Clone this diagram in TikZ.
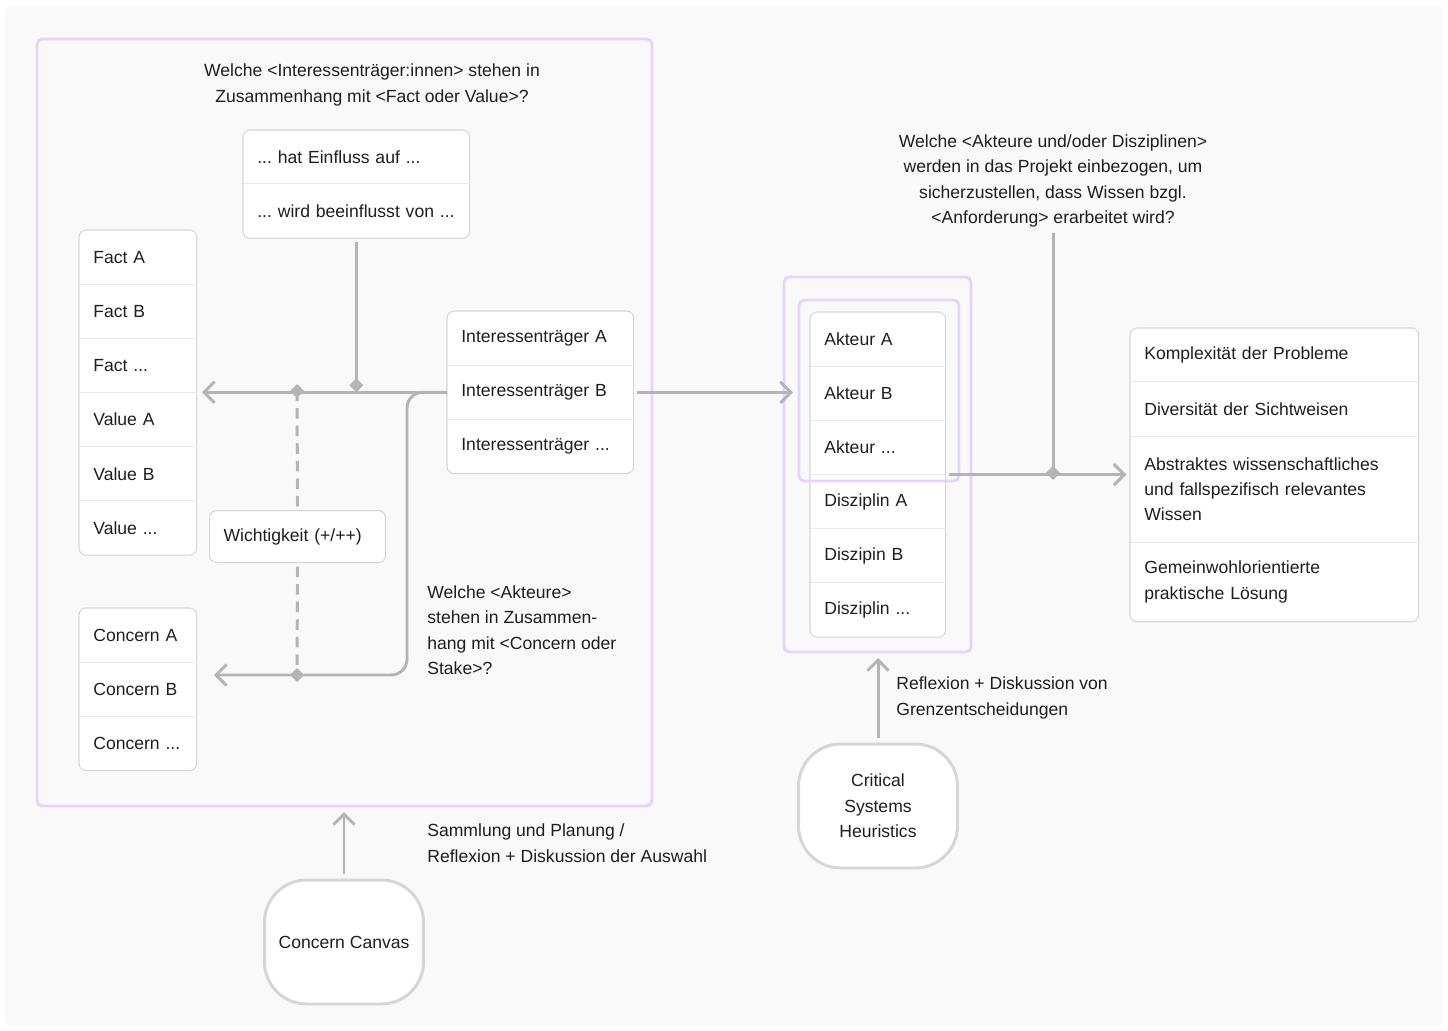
\documentclass[tikz,border=0pt]{standalone}
\usepackage{fontspec}
\setmainfont{Liberation Sans}
\usetikzlibrary{arrows.meta}
\usetikzlibrary{positioning}
\frenchspacing
\definecolor{canvas}{HTML}{F9F9F9}
\definecolor{wire}{HTML}{B4B4B4}
\definecolor{rim}{HTML}{D6D6D6}
\definecolor{hairline}{HTML}{E8E8E8}
\definecolor{lilac}{HTML}{E3D3FF}
\definecolor{ink}{HTML}{1E1E1E}
\tikzset{frame/.style = {draw=lilac, line width=1.6pt, rounded corners=3pt}}
\tikzset{listbox/.style = {draw=rim, line width=0.6pt, rounded corners=4pt}}
\tikzset{listrow/.style = {text width=#1, inner xsep=0.28cm, inner ysep=0pt,
                           minimum height=1.07cm, align=left, fill=white, text=ink}}
\tikzset{hairrule/.style = {draw=hairline, line width=0.6pt}}
\tikzset{wire/.style = {draw=wire, line width=1.7pt}}
\tikzset{hub/.style = {-{Diamond[length=8pt, width=8pt]}}}
\tikzset{tool/.style = {draw=rim, fill=white, line width=1.7pt, rounded corners=24pt,
                        minimum width=3.18cm, minimum height=2.48cm, align=center, text=ink}}
\tikzset{note/.style = {inner sep=0pt, text=ink}}

\begin{document}
\begin{tikzpicture}[x=0.02cm, y=-0.02cm, font=\fontsize{10}{14.5}\selectfont,
                    >={Straight Barb[length=6pt, width=12pt]}]
    \useasboundingbox (0,0) rectangle (1448,1031);
    \fill [canvas, rounded corners=3pt] (5,5) rectangle (1443,1026);

    \node [note, align=center] (askFact) at (372,85)
        {Welche <Interessenträger:innen> stehen in\\Zusammenhang mit <Fact oder Value>?};

    \node [listrow=3.96cm, minimum height=1.06cm, anchor=north west] (einfl) at (243,130) {... hat Einfluss auf ...};
    \node [listrow=3.96cm, minimum height=1.08cm, below=0pt of einfl] (beeinfl) {... wird beeinflusst von ...};
    \draw [listbox] (einfl.north west) rectangle (beeinfl.south east);

    \node [listrow=1.78cm, minimum height=1.07cm, anchor=north west] (factA) at (79,230) {Fact A};
    \node [listrow=1.78cm, below=0pt of factA] (factB) {Fact B};
    \node [listrow=1.78cm, below=0pt of factB] (factC) {Fact ...};
    \node [listrow=1.78cm, below=0pt of factC] (valA) {Value A};
    \node [listrow=1.78cm, below=0pt of valA] (valB) {Value B};
    \node [listrow=1.78cm, below=0pt of valB] (valC) {Value ...};
    \draw [listbox] (factA.north west) rectangle (valC.south east);

    \node [listrow=1.78cm, anchor=north west] (conA) at (79,608) {Concern A};
    \node [listrow=1.78cm, below=0pt of conA] (conB) {Concern B};
    \node [listrow=1.78cm, below=0pt of conB] (conC) {Concern ...};
    \draw [listbox] (conA.north west) rectangle (conC.south east);

    \node [listrow=3.16cm, anchor=north west] (intA) at (447,311) {Interessenträger A};
    \node [listrow=3.16cm, below=0pt of intA] (intB) {Interessenträger B};
    \node [listrow=3.16cm, below=0pt of intB] (intC) {Interessenträger ...};
    \draw [listbox] (intA.north west) rectangle (intC.south east);

    \node [listrow=2.96cm, minimum height=1.04cm, anchor=north west, draw=rim,
           line width=0.6pt, rounded corners=4pt] (wicht) at (209,510) {Wichtigkeit (+/++)};

    \node [note, anchor=west, align=left] (askStake) at (427,630)
        {Welche <Akteure>\\stehen in Zusammen-\\hang mit <Concern oder\\Stake>?};

    \node [listrow=2.14cm, anchor=north west] (akt1) at (810,312) {Akteur A};
    \node [listrow=2.14cm, below=0pt of akt1] (akt2) {Akteur B};
    \node [listrow=2.14cm, below=0pt of akt2] (akt3) {Akteur ...};
    \node [listrow=2.14cm, below=0pt of akt3] (dis1) {Disziplin A};
    \node [listrow=2.14cm, below=0pt of dis1] (dis2) {Diszipin B};
    \node [listrow=2.14cm, below=0pt of dis2] (dis3) {Disziplin ...};
    \draw [listbox] (akt1.north west) rectangle (dis3.south east);

    \node [note, align=center] (askAkt) at (1053,181)
        {Welche <Akteure und/oder Disziplinen>\\werden in das Projekt einbezogen, um\\sicherzustellen, dass Wissen bzgl.\\<Anforderung> erarbeitet wird?};

    \node [listrow=5.2cm, minimum height=1.06cm, anchor=north west] (kompl) at (1130,328) {Komplexität der Probleme};
    \node [listrow=5.2cm, minimum height=1.08cm, below=0pt of kompl] (divers) {Diversität der Sichtweisen};
    \node [listrow=5.2cm, minimum height=2.1cm, below=0pt of divers] (abstr)
        {Abstraktes wissenschaftliches\\und fallspezifisch relevantes\\Wissen};
    \node [listrow=5.2cm, minimum height=1.58cm, below=0pt of abstr] (gemein)
        {Gemeinwohlorientierte\\praktische Lösung};
    \draw [listbox] (kompl.north west) rectangle (gemein.south east);

    \foreach \r in {einfl, factA, factB, factC, valA, valB, conA, conB, intA, intB,
                    akt1, akt2, akt3, dis1, dis2, kompl, divers, abstr}
        \draw [hairrule] (\r.south west) -- (\r.south east);

    \draw [frame] (37,39) rectangle (652,806);
    \draw [frame] (784,277) rectangle (971,652);
    \draw [frame] (799,300) rectangle (959,481);

    \node [tool] (csh) at (878,806) {Critical\\Systems\\Heuristics};
    \node [note, anchor=west, align=left] (reflex) at (896,698)
        {Reflexion + Diskussion von\\Grenzentscheidungen};
    \node [tool] (canvas) at (344,942) {Concern Canvas};
    \node [note, anchor=west, align=left] (samml) at (427,843)
        {Sammlung und Planung /\\Reflexion + Diskussion der Auswahl};

    \coordinate (hubUp) at (297,384);
    \coordinate (hubDown) at (297,682);
    \coordinate (bendLow) at (407,675);
    \coordinate (conIn) at (214,675);
    \coordinate (aktIn) at (793,391);
    \coordinate (hubRight) at (1053,480);
    \coordinate (leftIn) at (344,812);
    \coordinate (rightIn) at (878,658);

    \draw [wire, ->, shorten >=3pt] (intB.west) -- (intB.west -| valA.east);
    \draw [wire, ->, rounded corners=9pt] (intB.west) -| (bendLow) -- (conIn);
    \draw [wire, hub, shorten <=2pt] (beeinfl.south) -- (beeinfl.south |- intB.west);
    \draw [wire, hub, dash pattern=on 6pt off 4pt, shorten <=2pt] (wicht.north) -- (hubUp);
    \draw [wire, hub, dash pattern=on 6pt off 4pt, shorten <=2pt] (wicht.south) -- (hubDown);
    \draw [wire, ->, shorten <=2pt] (intB.east) -- (intB.east -| aktIn);
    \draw [wire, hub, shorten <=3pt] (askAkt.south) -- (hubRight);
    \draw [wire, ->, shorten <=2pt, shorten >=2pt] (akt3.south east) -- (akt3.south east -| kompl.west);
    \draw [wire, ->, shorten <=2.5pt] (canvas.north) -- (leftIn);
    \draw [wire, ->, shorten <=2.5pt] (csh.north) -- (rightIn);
\end{tikzpicture}
\end{document}
